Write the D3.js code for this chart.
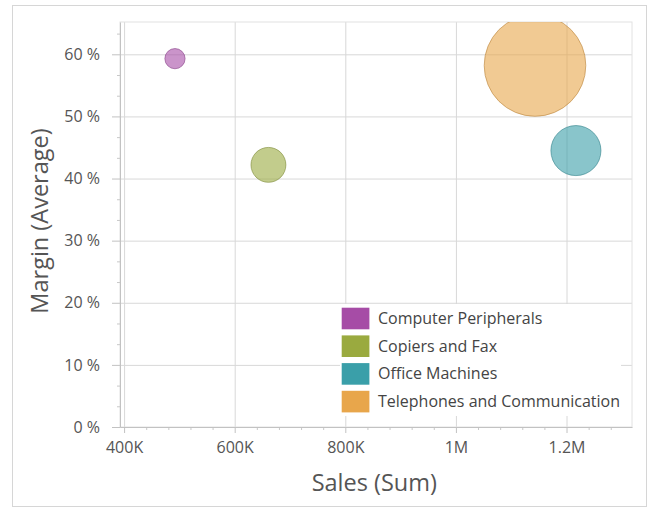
<!DOCTYPE html>
<html>
<head>
<meta charset="utf-8">
<script src="https://cdn.jsdelivr.net/npm/d3@7/dist/d3.min.js"></script>
<style>
  body { margin: 0; background: #fff; }
  text { font-family: "Segoe UI", "Open Sans", sans-serif; }
</style>
</head>
<body>
<svg width="654" height="508"></svg>
<script>
// chart data
var categories = ["Computer Peripherals", "Copiers and Fax", "Office Machines", "Telephones and Communication"];
var sales = [492000, 661000, 1217000, 1143000];
var marginAvg = [0.593, 0.422, 0.445, 0.582];
var weights = [2000, 3450, 4950, 10050];
var colors = ["#a64ca6", "#9aaa3f", "#3a9fa9", "#e8a64b"];

var xTicks = [400000, 600000, 800000, 1000000, 1200000];
var xTickLabels = ["400K", "600K", "800K", "1M", "1.2M"];
var yTicks = [0, 0.1, 0.2, 0.3, 0.4, 0.5, 0.6];
var yTickLabels = ["0 %", "10 %", "20 %", "30 %", "40 %", "50 %", "60 %"];

var svg = d3.select("svg");

// outer frame
svg.append("rect")
    .attr("x", 12.5).attr("y", 5.5)
    .attr("width", 634).attr("height", 501)
    .attr("fill", "#fff")
    .attr("stroke", "#d6d6d6");

var margin = { top: 22, right: 22, bottom: 81, left: 120 },
    width = 654 - margin.left - margin.right,
    height = 508 - margin.top - margin.bottom,
    g = svg.append("g").attr("transform", "translate(" + margin.left + "," + margin.top + ")");

var x = d3.scaleLinear()
    .domain([392600, 1318400])
    .range([0, width]);

var y = d3.scaleLinear()
    .domain([0, 0.652])
    .range([height, 0]);

var r = d3.scaleLinear()
    .domain([0, d3.max(weights)])
    .range([0, 50.8]);

// gridlines
g.append("g")
    .attr("class", "grid")
    .call(d3.axisLeft(y).tickValues(yTicks).tickSize(-width).tickFormat(""))
    .call(s => s.select(".domain").remove())
    .selectAll("line").attr("stroke", "#d8d8d8");

g.append("g")
    .attr("class", "grid")
    .attr("transform", "translate(0," + height + ")")
    .call(d3.axisBottom(x).tickValues(xTicks).tickSize(-height).tickFormat(""))
    .call(s => s.select(".domain").remove())
    .selectAll("line").attr("stroke", "#d8d8d8");

// plot border
g.append("rect")
    .attr("width", width).attr("height", height)
    .attr("fill", "none")
    .attr("stroke", "#e2e2e2");

// bubbles
g.append("clipPath").attr("id", "clip")
    .append("rect").attr("width", width).attr("height", height);

var idx = d3.range(categories.length).sort((a, b) => weights[b] - weights[a]);

g.append("g")
    .attr("clip-path", "url(#clip)")
    .selectAll("circle")
    .data(idx)
    .enter().append("circle")
    .attr("cx", i => x(sales[i]))
    .attr("cy", i => y(marginAvg[i]))
    .attr("r", i => r(weights[i]))
    .attr("fill", i => colors[i])
    .attr("fill-opacity", 0.6)
    .attr("stroke", i => d3.color(colors[i]).darker(0.6))
    .attr("stroke-opacity", 0.6);

// minor ticks
var minorY = d3.range(0, 0.652, 0.1 / 3).filter(v => Math.abs(v * 30 - Math.round(v * 30)) < 1e-6 && Math.round(v * 30) % 3 != 0);
g.append("g")
    .call(d3.axisLeft(y).tickValues(minorY).tickSize(3).tickFormat(""))
    .call(s => s.select(".domain").remove())
    .selectAll("line").attr("stroke", "#c8c8c8");

var minorX = d3.range(400000, 1318400, 40000).filter(v => v % 200000 != 0);
g.append("g")
    .attr("transform", "translate(0," + height + ")")
    .call(d3.axisBottom(x).tickValues(minorX).tickSize(3).tickFormat(""))
    .call(s => s.select(".domain").remove())
    .selectAll("line").attr("stroke", "#c8c8c8");

// axes
var yAxis = g.append("g")
    .call(d3.axisLeft(y).tickValues(yTicks)
        .tickFormat((d, i) => yTickLabels[i])
        .tickSizeInner(8).tickSizeOuter(0).tickPadding(12));
yAxis.select(".domain").attr("stroke", "#c2c2c2");
yAxis.selectAll(".tick line").attr("stroke", "#c2c2c2");
yAxis.selectAll("text").attr("fill", "#555").attr("font-size", 16);

var xAxis = g.append("g")
    .attr("transform", "translate(0," + height + ")")
    .call(d3.axisBottom(x).tickValues(xTicks)
        .tickFormat((d, i) => xTickLabels[i])
        .tickSizeInner(6).tickSizeOuter(0).tickPadding(9));
xAxis.select(".domain").attr("stroke", "#c2c2c2");
xAxis.selectAll(".tick line").attr("stroke", "#c2c2c2");
xAxis.selectAll("text").attr("fill", "#555").attr("font-size", 16);

// axis titles
svg.append("text")
    .attr("transform", "translate(48," + 221 + ") rotate(-90)")
    .attr("text-anchor", "middle")
    .attr("fill", "#555")
    .attr("font-size", 23.5)
    .text("Margin (Average)");

svg.append("text")
    .attr("x", margin.left + x(800000) + 29)
    .attr("y", 491)
    .attr("text-anchor", "middle")
    .attr("fill", "#555")
    .attr("font-size", 23.5)
    .text("Sales (Sum)");

// legend
var legend = svg.append("g").attr("transform", "translate(340,304)");
legend.append("rect")
    .attr("width", 281).attr("height", 112)
    .attr("fill", "#fff");

var item = legend.selectAll(".item")
    .data(categories)
    .enter().append("g")
    .attr("class", "item")
    .attr("transform", (d, i) => "translate(0," + (i * 27.7) + ")");

item.append("rect")
    .attr("x", 1.7).attr("y", 3.7)
    .attr("width", 27.7).attr("height", 21.6)
    .attr("fill", (d, i) => colors[i]);

item.append("text")
    .attr("x", 38).attr("y", 14.5)
    .attr("dy", "0.35em")
    .attr("fill", "#444")
    .attr("font-size", 16)
    .text(d => d);
</script>
</body>
</html>
